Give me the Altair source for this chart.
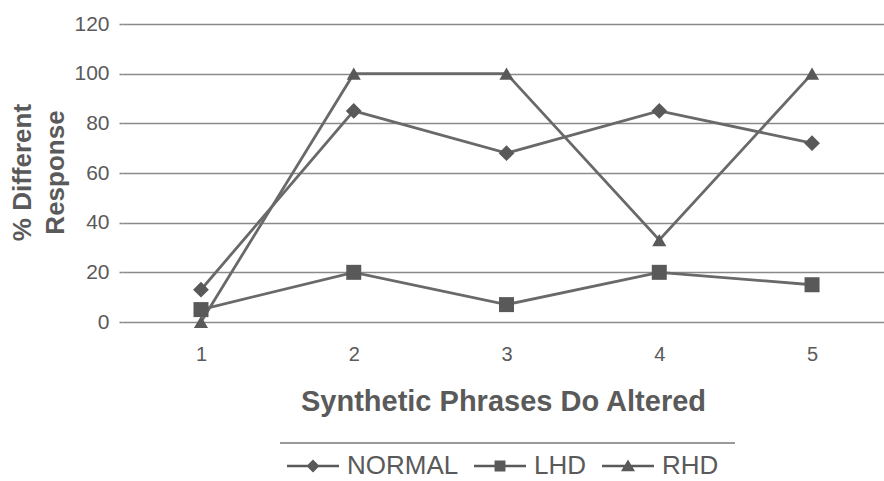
import altair as alt
import pandas as pd

categories = [1, 2, 3, 4, 5]
series = ["NORMAL", "LHD", "RHD"]
normal = [13, 85, 68, 85, 72]
lhd = [5, 20, 7, 20, 15]
rhd = [0, 100, 100, 33, 100]
y_ticks = [0, 20, 40, 60, 80, 100, 120]

rows = []
for name, vals in zip(series, [normal, lhd, rhd]):
    for c, v in zip(categories, vals):
        rows.append({"cat": c, "value": v, "series": name})
df = pd.DataFrame(rows)

LINE = "#696969"
MARK = "#595959"
TEXT = "#5a5a5a"
GRID = "#8a8a8a"

x_enc = alt.X(
    "cat:Q",
    scale=alt.Scale(domain=[0.483, 5.471], nice=False, zero=False),
    axis=alt.Axis(
        values=categories, format="d", grid=False, domain=False, ticks=False,
        labelFontSize=20, labelColor=TEXT, labelPadding=22, labelFont="Liberation Sans",
        title="Synthetic Phrases Do Altered", titleFontSize=29, titleFont="Liberation Sans",
        titleFontWeight="bold", titleColor=TEXT, titlePadding=23,
    ),
)
y_enc = alt.Y(
    "value:Q",
    scale=alt.Scale(domain=[0, 120], nice=False),
    axis=alt.Axis(
        values=y_ticks, grid=True, gridColor=GRID, gridWidth=1.6, domain=False,
        ticks=True, tickSize=3, tickColor=GRID, tickWidth=1.6,
        labelFontSize=21, labelColor=TEXT, labelPadding=10, labelFont="Liberation Sans",
        title=["% Different", "Response"], titleFontSize=26, titleFont="Liberation Sans",
        titleFontWeight="bold", titleColor=TEXT, titleLineHeight=33,
        titleAngle=-90, titleBaseline="top", titleAlign="center",
        titleX=-113, titleY=148,
    ),
)

base = alt.Chart(df)

lines = base.mark_line(color=LINE, strokeWidth=2.8).encode(
    x=x_enc, y=y_enc, detail="series:N"
)

points = base.mark_point(filled=True, color=MARK, opacity=1).encode(
    x="cat:Q",
    y="value:Q",
    shape=alt.Shape(
        "series:N",
        scale=alt.Scale(domain=series, range=["diamond", "square", "triangle-up"]),
        legend=None,
    ),
    size=alt.Size(
        "series:N",
        scale=alt.Scale(domain=series, range=[250, 200, 230]),
        legend=None,
    ),
)

# legend symbols: a short line (thin filled bar) with the series marker in the middle
legend_paths = [
    "M-1,-0.045L1,-0.045L1,0.045L-1,0.045ZM0,-0.25L0.25,0L0,0.25L-0.25,0Z",
    "M-1,-0.045L1,-0.045L1,0.045L-1,0.045ZM-0.21,-0.21L0.21,-0.21L0.21,0.21L-0.21,0.21Z",
    "M-1,-0.045L1,-0.045L1,0.045L-1,0.045ZM0,-0.25L0.27,0.2L-0.27,0.2Z",
]

legend_layer = base.transform_filter("false").mark_point(
    filled=True, color=MARK, opacity=1, size=2704
).encode(
    x="cat:Q",
    y="value:Q",
    shape=alt.Shape(
        "series:N",
        scale=alt.Scale(domain=series, range=legend_paths),
        legend=alt.Legend(
            title=None, orient="none", direction="horizontal",
            legendX=165, legendY=416,
            symbolSize=2704, symbolFillColor=MARK, symbolOpacity=1,
            symbolStrokeWidth=0,
            labelFontSize=26, labelColor=TEXT, labelFont="Liberation Sans",
            labelOffset=8, columnPadding=15,
        ),
    ),
)

sep = alt.Chart(pd.DataFrame({"k": [0]})).mark_rule(color="#777777", strokeWidth=1.4).encode(
    x=alt.value(158), x2=alt.value(613), y=alt.value(419)
)

chart = (
    alt.layer(lines, points, legend_layer, sep)
    .resolve_scale(shape="independent", size="independent")
    .properties(
        width=762, height=298,
        autosize=alt.AutoSizeParams(type="none"),
        padding={"left": 122, "top": 24, "right": 0, "bottom": 159},
        background="white",
    )
    .configure_view(stroke=None)
)

chart.save("out.html", embed_options={"renderer": "svg", "actions": False})
